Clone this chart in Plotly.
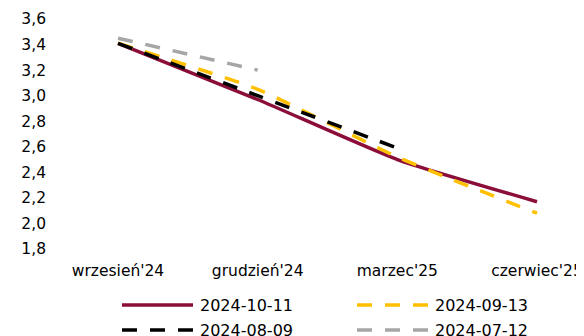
import plotly.graph_objects as go

categories = ["wrzesień'24", "grudzień'24", "marzec'25", "czerwiec'25"]
series_names = ["2024-10-11", "2024-09-13", "2024-08-09", "2024-07-12"]
s_2024_10_11 = [3.41, 2.97, 2.50, 2.17]
s_2024_09_13 = [3.41, 3.05, 2.52, 2.08]
s_2024_08_09 = [3.41, 3.00, 2.59]
s_2024_07_12 = [3.45, 3.20]
y_ticks = [1.8, 2.0, 2.2, 2.4, 2.6, 2.8, 3.0, 3.2, 3.4, 3.6]
y_tick_labels = ["1,8", "2,0", "2,2", "2,4", "2,6", "2,8", "3,0", "3,2", "3,4", "3,6"]

colors = {"2024-10-11": "#8B0D3A", "2024-09-13": "#FFC000",
          "2024-08-09": "#000000", "2024-07-12": "#A6A6A6"}
dashes = {"2024-10-11": "solid", "2024-09-13": "15px,13px",
          "2024-08-09": "15px,13px", "2024-07-12": "15px,13px"}
widths = {"2024-10-11": 3.5, "2024-09-13": 3.5, "2024-08-09": 3.5, "2024-07-12": 3.5}
values = {"2024-10-11": s_2024_10_11, "2024-09-13": s_2024_09_13,
          "2024-08-09": s_2024_08_09, "2024-07-12": s_2024_07_12}

FONT = "DejaVu Sans, Verdana, sans-serif"
fig = go.Figure()
for name in ["2024-10-11", "2024-07-12", "2024-09-13", "2024-08-09"]:
    v = values[name]
    fig.add_trace(go.Scatter(
        x=list(range(len(v))), y=v, mode="lines", name=name,
        line=dict(color=colors[name], width=widths[name], dash=dashes[name],
                  shape="spline", smoothing=0.5),
        showlegend=False, hoverinfo="x+y"))

# page body has an 8px margin: the figure sits at (8, 8) in the window
OFF = 8
W, H = 584 - OFF, 336 - OFF
L, R, T, B = 40 - OFF, 0, 19 - OFF, 87
pw, ph = W - L - R, H - T - B

def px(x):
    return (x - OFF - L) / pw

def py(y):
    return (H - B - (y - OFF)) / ph

# custom legend (2x2), window pixel positions
legend_pos = {"2024-10-11": (122, 305), "2024-09-13": (357, 305),
              "2024-08-09": (122, 330), "2024-07-12": (357, 330)}
shapes, annotations = [], []
for name in series_names:
    x0, y0 = legend_pos[name]
    shapes.append(dict(type="line", xref="paper", yref="paper",
                       x0=px(x0), x1=px(x0 + 71), y0=py(y0), y1=py(y0),
                       line=dict(color=colors[name], width=3.5, dash=dashes[name])))
    annotations.append(dict(xref="paper", yref="paper", x=px(x0 + 76), y=py(y0),
                            text=name, showarrow=False, xanchor="left", yanchor="middle",
                            font=dict(family=FONT, size=16, color="#000000")))

unit = (537 - 118) / 3
a = -(118 - 40) / unit
b = a + pw / unit

fig.update_layout(
    width=W, height=H, margin=dict(l=L, r=R, t=T, b=B, autoexpand=False),
    paper_bgcolor="white", plot_bgcolor="white",
    font=dict(family=FONT, size=15.5, color="#000000"),
    xaxis=dict(range=[a, b], tickmode="array", tickvals=list(range(len(categories))),
               ticktext=categories, showgrid=False, zeroline=False, showline=False,
               ticks="", ticklabelstandoff=10, fixedrange=True, automargin=False),
    yaxis=dict(range=[1.8, 3.6], tickmode="array", tickvals=y_ticks, ticktext=y_tick_labels,
               showgrid=False, zeroline=False, showline=False, ticks="",
               ticklabelstandoff=-7, fixedrange=True, automargin=False),
    shapes=shapes, annotations=annotations, showlegend=False,
)
fig.write_html("out.html", config={"displayModeBar": False})
